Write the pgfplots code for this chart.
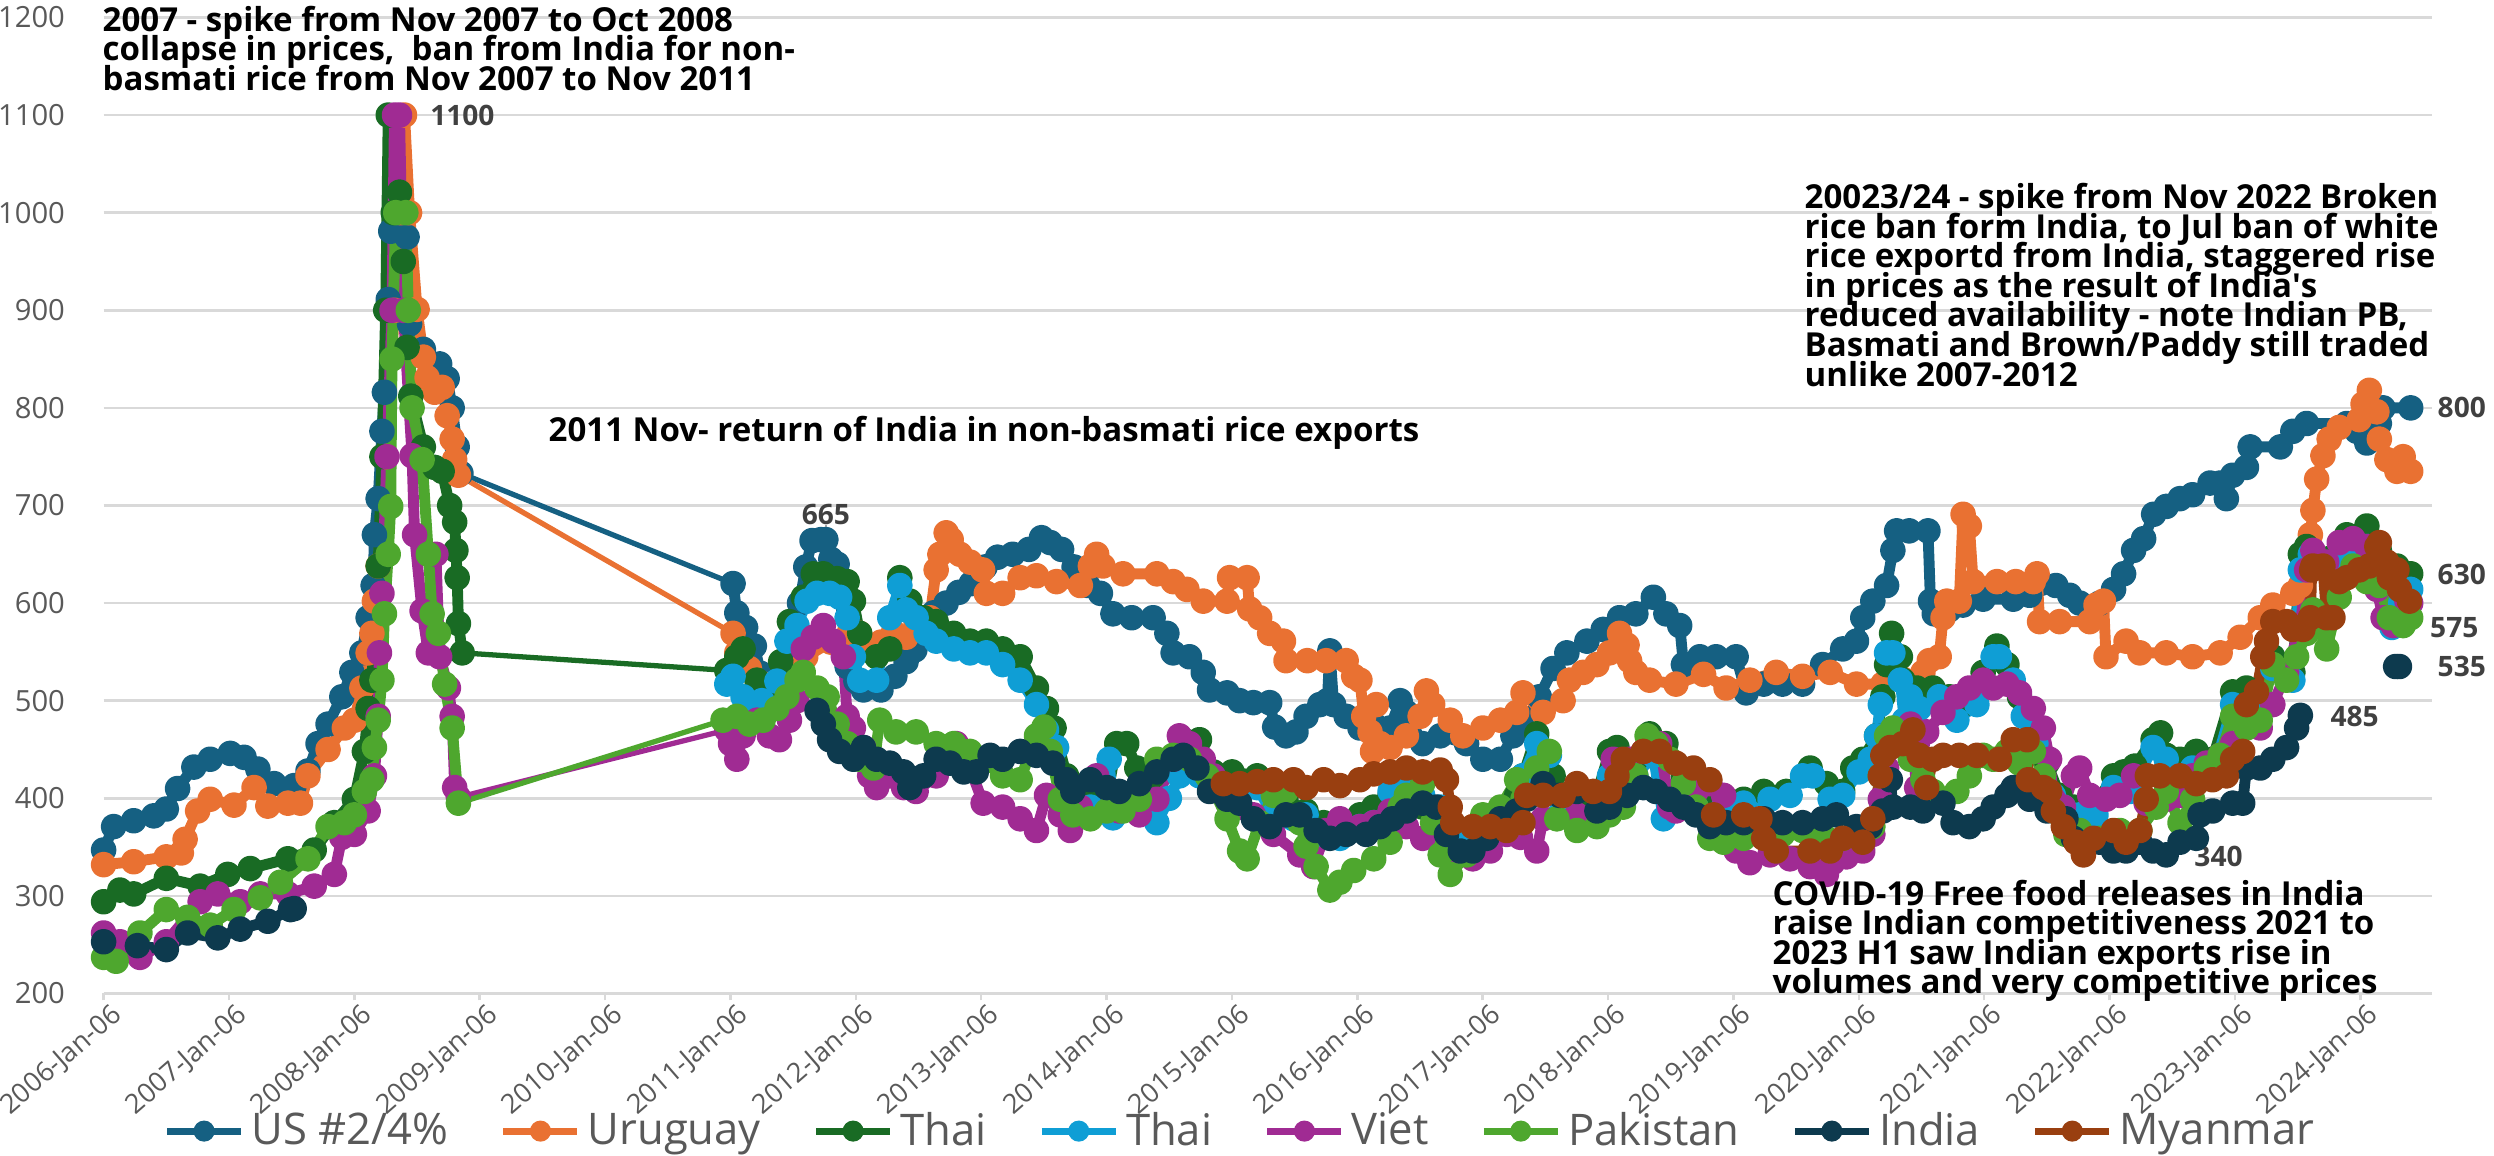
\documentclass[border=0pt]{standalone}
\usepackage{pgfplots}
\pgfplotsset{compat=1.18}
\usepackage{fontspec}
\setmainfont{Open Sans}
\definecolor{cUS}{HTML}{156082}
\definecolor{cUY}{HTML}{E97132}
\definecolor{cTH}{HTML}{196B24}
\definecolor{cTB}{HTML}{0F9ED5}
\definecolor{cVN}{HTML}{A02B93}
\definecolor{cPK}{HTML}{4EA72E}
\definecolor{cIN}{HTML}{0D3A4E}
\definecolor{cMM}{HTML}{993F10}
\definecolor{gridgray}{HTML}{D9D9D9}
\definecolor{tickgray}{HTML}{595959}
\definecolor{lblgray}{HTML}{404040}
\pgfplotsset{
  ser/.style={line width=3.1pt, mark=*, mark size=2.1pt, mark options={solid}, line join=round, forget plot},
  bridge/.style={line width=1.5pt, no marks, forget plot},
  legimg/.style={legend image code/.code={
      \draw[line width=2pt] (0cm,0cm) -- (0.74cm,0cm);
      \fill (0.37cm,0cm) circle (2.8pt);}},
}
\tikzset{lbl/.style={font=\fontsize{8}{9}\selectfont\bfseries, text=lblgray, inner sep=0pt}}
\newcommand{\annfont}{\fontsize{9.4}{8.4}\selectfont\bfseries\lineskiplimit=-\maxdimen\lineskip=0pt}
\begin{document}
\begin{tikzpicture}
\begin{axis}[
  scale only axis, width=23.284cm, height=9.76cm,
  xmin=2006, xmax=2024.57, ymin=200, ymax=1200,
  axis x line*=bottom, axis y line*=left,
  axis line style={-},
  x axis line style={draw=gridgray, line width=0.9pt},
  y axis line style={draw=none},
  ymajorgrids, grid style={draw=gridgray, line width=0.7pt},
  ytick={200,300,...,1200},
  yticklabels={200,300,400,500,600,700,800,900,1000,1100,1200},
  ytick style={draw=none},
  xtick={2006,2007,...,2024},
  xticklabels={2006-Jan-06,2007-Jan-06,2008-Jan-06,2009-Jan-06,2010-Jan-06,2011-Jan-06,2012-Jan-06,2013-Jan-06,2014-Jan-06,2015-Jan-06,2016-Jan-06,2017-Jan-06,2018-Jan-06,2019-Jan-06,2020-Jan-06,2021-Jan-06,2022-Jan-06,2023-Jan-06,2024-Jan-06},
  xtick style={draw=gridgray, line width=0.7pt},
  tick align=outside, major tick length=0.07cm,
  yticklabel style={font=\fontsize{8.3}{10}\selectfont, text=tickgray, anchor=east, inner sep=0pt, xshift=-0.31cm},
  xticklabel style={font=\fontsize{7.7}{9.5}\selectfont, text=tickgray, rotate=41, anchor=north east, inner sep=0pt, xshift=0.04cm, yshift=-0.05cm},
  clip=false,
  legend columns=8,
  legend cell align=left,
  legend style={at={(0.488,-0.141)}, anchor=center, draw=none, fill=none,
     font=\fontsize{12.4}{14.5}\selectfont, text=tickgray, inner sep=0pt,
     nodes={inner sep=0.5pt},
     /tikz/every even column/.append style={column sep=0.5cm},
     /tikz/every odd column/.append style={column sep=0.05cm}},
]
% ---------------- US #2/4%
\addplot[ser, cUS] coordinates {(2006.0,347) (2006.08,371) (2006.24,377) (2006.40,382) (2006.5,389) (2006.59,410) (2006.72,432) (2006.85,440) (2007.01,446) (2007.12,442) (2007.23,430) (2007.36,415) (2007.52,413) (2007.63,428) (2007.71,456) (2007.79,476) (2007.90,504) (2007.98,529) (2008.06,549) (2008.11,585) (2008.15,618) (2008.16,670) (2008.19,707) (2008.22,776) (2008.24,816) (2008.27,911) (2008.29,981) (2008.35,985) (2008.42,975) (2008.44,886) (2008.55,860) (2008.68,845) (2008.74,830) (2008.78,800) (2008.82,760) (2008.85,733)};
\addplot[bridge, cUS] coordinates {(2008.85,733) (2011.02,620)};
\addplot[ser, cUS] coordinates {(2011.02,620) (2011.05,590) (2011.12,575) (2011.19,556) (2011.24,528) (2011.3,522) (2011.4,525) (2011.49,530) (2011.55,600) (2011.6,637) (2011.65,664) (2011.72,665) (2011.76,665) (2011.8,645) (2011.85,640) (2011.93,535) (2012.0,520) (2012.06,511) (2012.2,511) (2012.31,525) (2012.4,540) (2012.47,552) (2012.55,575) (2012.62,590) (2012.72,600) (2012.82,611) (2012.92,620) (2013.03,637) (2013.13,647) (2013.25,650) (2013.38,655) (2013.48,667) (2013.55,662) (2013.64,655) (2013.74,637) (2013.85,618) (2013.95,610) (2014.05,589) (2014.2,585) (2014.37,585) (2014.48,569) (2014.53,549) (2014.66,545) (2014.77,529) (2014.82,511) (2014.96,508) (2015.06,500) (2015.17,498) (2015.3,498) (2015.34,473) (2015.43,464) (2015.51,468) (2015.59,484) (2015.7,496) (2015.76,500) (2015.78,551) (2015.81,496) (2015.91,484) (2016.02,472) (2016.13,476) (2016.26,472) (2016.34,500) (2016.39,488) (2016.52,456) (2016.66,464) (2016.87,456) (2017.0,440) (2017.14,440) (2017.24,464) (2017.32,472) (2017.45,504) (2017.56,533) (2017.67,549) (2017.83,561) (2017.96,573) (2018.09,585) (2018.22,589) (2018.36,606) (2018.46,589) (2018.57,577) (2018.6,537) (2018.73,545) (2018.86,545) (2019.02,545) (2019.1,508) (2019.24,517) (2019.39,517) (2019.55,517) (2019.71,537) (2019.87,553) (2019.98,561) (2020.03,585) (2020.11,602) (2020.22,618) (2020.27,654) (2020.3,674) (2020.4,674) (2020.55,674) (2020.57,602) (2020.6,589) (2020.72,593) (2020.83,598) (2020.99,604) (2021.23,604) (2021.36,608) (2021.57,618) (2021.68,608) (2021.76,600) (2021.92,600) (2022.03,614) (2022.11,630) (2022.19,654) (2022.27,666) (2022.35,691) (2022.45,699) (2022.56,707) (2022.66,711) (2022.8,723) (2022.88,723) (2022.93,707) (2022.98,731) (2023.09,739) (2023.12,760) (2023.36,760) (2023.46,776) (2023.57,784) (2023.89,784) (2023.97,776) (2024.05,764) (2024.15,784) (2024.18,800) (2024.4,800)};
% ---------------- Uruguay
\addplot[ser, cUY] coordinates {(2006.0,332) (2006.24,335) (2006.5,340) (2006.62,344) (2006.65,358) (2006.75,387) (2006.85,399) (2007.04,393) (2007.2,411) (2007.31,392) (2007.47,395) (2007.57,395) (2007.63,423) (2007.79,450) (2007.92,472) (2008.0,480) (2008.06,513) (2008.11,549) (2008.14,569) (2008.16,602) (2008.19,638) (2008.25,750) (2008.32,900) (2008.37,1000) (2008.4,1100) (2008.44,1000) (2008.5,901) (2008.55,852) (2008.58,831) (2008.64,816) (2008.7,821) (2008.74,792) (2008.78,768) (2008.8,747) (2008.83,731)};
\addplot[bridge, cUY] coordinates {(2008.83,731) (2011.02,569)};
\addplot[ser, cUY] coordinates {(2011.02,569) (2011.05,549) (2011.15,533) (2011.26,517) (2011.31,513) (2011.45,530) (2011.6,545) (2011.8,560) (2011.95,570) (2012.03,569) (2012.11,553) (2012.2,560) (2012.3,570) (2012.4,565) (2012.48,579) (2012.59,585) (2012.64,634) (2012.67,650) (2012.72,672) (2012.76,665) (2012.83,650) (2012.91,642) (2013.01,634) (2013.04,610) (2013.17,610) (2013.31,626) (2013.44,628) (2013.6,622) (2013.79,618) (2013.87,638) (2013.92,650) (2013.97,638) (2014.13,630) (2014.4,630) (2014.53,622) (2014.64,614) (2014.77,602) (2014.96,602) (2014.98,626) (2015.12,626) (2015.14,594) (2015.22,585) (2015.3,569) (2015.41,561) (2015.43,541) (2015.6,541) (2015.75,541) (2015.91,541) (2015.97,525) (2016.02,521) (2016.05,484) (2016.1,468) (2016.12,448) (2016.15,496) (2016.18,456) (2016.26,452) (2016.39,464) (2016.5,484) (2016.55,510) (2016.6,496) (2016.74,480) (2016.84,464) (2017.0,472) (2017.14,480) (2017.27,488) (2017.32,508) (2017.48,488) (2017.64,500) (2017.69,521) (2017.8,529) (2017.91,537) (2018.01,549) (2018.09,569) (2018.15,557) (2018.17,541) (2018.22,529) (2018.33,521) (2018.54,517) (2018.76,527) (2018.94,513) (2019.13,521) (2019.34,529) (2019.55,525) (2019.77,529) (2019.98,517) (2020.19,517) (2020.35,522) (2020.51,529) (2020.56,541) (2020.64,545) (2020.67,585) (2020.7,602) (2020.8,602) (2020.83,691) (2020.88,679) (2020.91,622) (2021.1,622) (2021.25,622) (2021.39,622) (2021.42,630) (2021.44,581) (2021.6,581) (2021.84,581) (2021.89,598) (2021.95,602) (2021.97,545) (2022.13,561) (2022.24,549) (2022.45,549) (2022.66,545) (2022.88,549) (2023.04,565) (2023.2,585) (2023.3,598) (2023.46,610) (2023.52,618) (2023.57,638) (2023.6,670) (2023.62,695) (2023.65,727) (2023.7,751) (2023.75,768) (2023.83,780) (2023.99,788) (2024.02,804) (2024.07,818) (2024.13,796) (2024.15,768) (2024.21,747) (2024.29,735) (2024.34,750) (2024.4,735)};
% ---------------- Thai (dark green)
\addplot[ser, cTH] coordinates {(2006.0,294) (2006.13,306) (2006.24,302) (2006.5,318) (2006.77,310) (2006.99,322) (2007.17,328) (2007.47,338) (2007.68,347) (2007.84,375) (2008.0,399) (2008.08,448) (2008.11,492) (2008.14,521) (2008.19,638) (2008.22,750) (2008.25,900) (2008.27,1100) (2008.31,1000) (2008.36,1021) (2008.39,950) (2008.42,862) (2008.45,812) (2008.55,760) (2008.64,739) (2008.7,735) (2008.76,700) (2008.8,683) (2008.81,654) (2008.82,626) (2008.83,579) (2008.86,549)};
\addplot[bridge, cTH] coordinates {(2008.86,549) (2010.97,531)};
\addplot[ser, cTH] coordinates {(2010.97,531) (2011.05,545) (2011.1,553) (2011.21,521) (2011.31,504) (2011.4,540) (2011.47,581) (2011.58,606) (2011.66,630) (2011.74,630) (2011.85,625) (2011.93,622) (2011.98,602) (2012.03,569) (2012.165,545) (2012.27,553) (2012.35,626) (2012.43,602) (2012.54,585) (2012.64,581) (2012.78,569) (2012.91,561) (2013.04,561) (2013.17,553) (2013.31,545) (2013.44,513) (2013.52,492) (2013.58,472) (2013.68,423) (2013.73,407) (2013.87,399) (2014.0,399) (2014.08,456) (2014.16,456) (2014.24,431) (2014.37,423) (2014.53,440) (2014.61,460) (2014.74,460) (2014.85,427) (2015.0,427) (2015.2,423) (2015.33,415) (2015.43,399) (2015.59,387) (2015.73,375) (2015.86,375) (2016.02,383) (2016.13,391) (2016.26,403) (2016.4,399) (2016.52,391) (2016.66,379) (2016.82,363) (2016.92,359) (2017.06,367) (2017.19,383) (2017.27,403) (2017.32,423) (2017.43,466) (2017.56,423) (2017.64,391) (2017.75,383) (2017.88,391) (2018.01,448) (2018.07,452) (2018.22,440) (2018.33,466) (2018.46,456) (2018.6,423) (2018.76,403) (2018.92,399) (2019.08,399) (2019.24,407) (2019.42,407) (2019.61,431) (2019.74,415) (2019.87,407) (2019.95,431) (2020.03,440) (2020.14,464) (2020.19,504) (2020.22,537) (2020.26,569) (2020.33,545) (2020.35,521) (2020.46,513) (2020.59,513) (2020.72,504) (2020.83,496) (2020.99,529) (2021.1,556) (2021.18,537) (2021.28,504) (2021.39,472) (2021.5,436) (2021.6,403) (2021.71,391) (2021.87,391) (2022.03,423) (2022.11,427) (2022.2,433) (2022.345,460) (2022.405,467) (2022.45,444) (2022.56,440) (2022.69,448) (2022.82,440) (2022.98,509) (2023.09,513) (2023.2,496) (2023.3,545) (2023.46,529) (2023.52,650) (2023.57,658) (2023.76,646) (2023.89,670) (2024.05,679) (2024.15,654) (2024.29,638) (2024.4,630)};
% ---------------- Thai (light blue)
\addplot[ser, cTB] coordinates {(2010.97,517) (2011.02,525) (2011.1,504) (2011.15,488) (2011.25,500) (2011.37,520) (2011.45,561) (2011.53,577) (2011.61,602) (2011.69,610) (2011.79,610) (2011.87,606) (2011.93,585) (2011.98,545) (2012.03,521) (2012.165,521) (2012.27,585) (2012.35,618) (2012.4,593) (2012.48,585) (2012.56,569) (2012.64,561) (2012.78,553) (2012.91,549) (2013.04,549) (2013.17,537) (2013.31,521) (2013.44,496) (2013.52,470) (2013.6,452) (2013.68,403) (2013.87,391) (2014.02,440) (2014.05,380) (2014.15,390) (2014.26,399) (2014.4,375) (2014.5,400) (2014.58,423) (2014.74,423) (2014.96,411) (2015.2,411) (2015.33,383) (2015.49,379) (2015.59,383) (2015.73,363) (2015.86,359) (2016.02,371) (2016.13,375) (2016.26,407) (2016.36,419) (2016.52,403) (2016.66,391) (2016.79,359) (2016.92,351) (2017.06,355) (2017.19,375) (2017.32,423) (2017.43,456) (2017.53,444) (2017.61,383) (2017.8,375) (2018.01,423) (2018.22,423) (2018.36,444) (2018.44,379) (2018.54,391) (2018.7,391) (2018.92,391) (2019.08,395) (2019.29,399) (2019.45,403) (2019.55,423) (2019.63,423) (2019.77,399) (2019.87,403) (2020.0,427) (2020.09,440) (2020.14,464) (2020.17,496) (2020.22,549) (2020.27,549) (2020.33,521) (2020.36,480) (2020.41,504) (2020.48,492) (2020.64,504) (2020.78,480) (2020.94,496) (2021.07,545) (2021.12,545) (2021.23,521) (2021.31,484) (2021.41,456) (2021.55,403) (2021.63,391) (2021.76,383) (2021.89,383) (2022.03,411) (2022.16,407) (2022.345,452) (2022.45,440) (2022.66,431) (2022.82,423) (2022.98,496) (2023.14,492) (2023.3,533) (2023.46,521) (2023.52,634) (2023.6,650) (2023.78,638) (2023.89,650) (2024.05,658) (2024.15,634) (2024.25,575) (2024.32,600) (2024.4,614)};
% ---------------- Viet
\addplot[ser, cVN] coordinates {(2006.0,262) (2006.13,253) (2006.29,237) (2006.5,253) (2006.77,294) (2006.91,302) (2007.09,294) (2007.25,302) (2007.47,302) (2007.68,310) (2007.84,322) (2007.9,360) (2008.0,363) (2008.11,387) (2008.16,423) (2008.19,484) (2008.2,549) (2008.22,610) (2008.26,750) (2008.3,900) (2008.32,1100) (2008.36,1100) (2008.39,900) (2008.46,751) (2008.48,670) (2008.54,592) (2008.59,549) (2008.65,650) (2008.68,545) (2008.75,513) (2008.78,484) (2008.8,411) (2008.83,401)};
\addplot[bridge, cVN] coordinates {(2008.83,401) (2010.97,470)};
\addplot[ser, cVN] coordinates {(2010.97,470) (2011.0,456) (2011.05,440) (2011.1,464) (2011.21,480) (2011.31,464) (2011.39,460) (2011.47,480) (2011.53,500) (2011.58,553) (2011.66,565) (2011.74,577) (2011.82,561) (2011.9,545) (2011.93,484) (2011.98,472) (2012.06,452) (2012.11,423) (2012.165,411) (2012.27,423) (2012.38,411) (2012.48,407) (2012.64,423) (2012.8,456) (2012.91,431) (2013.015,395) (2013.17,391) (2013.31,379) (2013.44,367) (2013.52,403) (2013.63,383) (2013.71,367) (2013.79,391) (2013.92,423) (2014.05,403) (2014.1,387) (2014.26,383) (2014.4,399) (2014.53,440) (2014.58,464) (2014.66,456) (2014.77,440) (2014.85,423) (2015.06,391) (2015.17,383) (2015.33,363) (2015.54,342) (2015.65,330) (2015.75,367) (2015.86,379) (2016.02,371) (2016.13,375) (2016.26,387) (2016.39,371) (2016.52,359) (2016.74,342) (2016.92,338) (2017.06,346) (2017.19,363) (2017.3,360) (2017.43,346) (2017.48,379) (2017.75,383) (2018.01,399) (2018.04,440) (2018.17,440) (2018.28,448) (2018.41,456) (2018.49,391) (2018.54,387) (2018.7,407) (2018.81,415) (2018.92,403) (2019.02,346) (2019.13,334) (2019.29,342) (2019.45,338) (2019.61,330) (2019.74,322) (2019.79,334) (2019.9,340) (2020.03,346) (2020.11,363) (2020.17,399) (2020.22,431) (2020.27,464) (2020.41,476) (2020.46,411) (2020.54,468) (2020.67,488) (2020.78,504) (2020.88,513) (2020.99,521) (2021.07,513) (2021.18,517) (2021.28,508) (2021.39,492) (2021.47,472) (2021.52,440) (2021.55,399) (2021.63,391) (2021.71,423) (2021.76,431) (2021.84,403) (2021.97,399) (2022.08,403) (2022.19,423) (2022.29,395) (2022.45,399) (2022.56,403) (2022.66,423) (2022.77,436) (2022.88,444) (2022.98,456) (2023.09,476) (2023.2,472) (2023.3,496) (2023.41,529) (2023.52,577) (2023.57,634) (2023.62,654) (2023.73,642) (2023.83,662) (2023.94,666) (2024.05,658) (2024.13,614) (2024.18,585) (2024.26,577) (2024.37,602) (2024.4,600)};
% ---------------- Pakistan
\addplot[ser, cPK] coordinates {(2006.0,237) (2006.1,233) (2006.29,262) (2006.5,286) (2006.67,278) (2006.85,270) (2007.04,286) (2007.25,298) (2007.41,314) (2007.63,338) (2007.79,371) (2007.92,375) (2008.0,383) (2008.08,407) (2008.14,419) (2008.16,452) (2008.19,480) (2008.22,521) (2008.24,589) (2008.27,650) (2008.29,699) (2008.3,850) (2008.33,1000) (2008.41,1000) (2008.43,900) (2008.46,800) (2008.54,747) (2008.59,650) (2008.62,589) (2008.67,569) (2008.72,517) (2008.78,472) (2008.83,395)};
\addplot[bridge, cPK] coordinates {(2008.83,395) (2010.94,480)};
\addplot[ser, cPK] coordinates {(2010.94,480) (2011.05,484) (2011.15,476) (2011.26,480) (2011.37,492) (2011.45,504) (2011.53,521) (2011.58,529) (2011.69,513) (2011.77,504) (2011.85,476) (2011.93,456) (2012.03,440) (2012.14,431) (2012.19,480) (2012.32,468) (2012.48,468) (2012.64,456) (2012.78,456) (2012.91,448) (2012.99,440) (2013.17,423) (2013.31,419) (2013.44,464) (2013.5,473) (2013.55,448) (2013.63,399) (2013.73,383) (2013.87,379) (2014.0,387) (2014.13,387) (2014.26,399) (2014.4,440) (2014.53,444) (2014.66,440) (2014.8,423) (2014.96,379) (2015.06,346) (2015.12,338) (2015.22,375) (2015.33,403) (2015.43,407) (2015.54,375) (2015.59,351) (2015.67,330) (2015.78,306) (2015.86,314) (2015.97,326) (2016.13,338) (2016.26,355) (2016.34,391) (2016.39,403) (2016.52,415) (2016.6,375) (2016.66,342) (2016.74,322) (2016.87,342) (2017.0,383) (2017.14,391) (2017.27,419) (2017.32,399) (2017.43,431) (2017.53,448) (2017.59,379) (2017.75,367) (2017.91,371) (2018.01,383) (2018.12,391) (2018.22,423) (2018.31,464) (2018.38,456) (2018.49,440) (2018.6,415) (2018.7,391) (2018.81,359) (2018.92,355) (2019.08,359) (2019.24,363) (2019.39,363) (2019.55,367) (2019.71,363) (2019.87,359) (2020.01,363) (2020.11,371) (2020.17,423) (2020.22,464) (2020.27,472) (2020.33,464) (2020.41,440) (2020.51,419) (2020.59,407) (2020.67,399) (2020.78,407) (2020.88,423) (2020.99,444) (2021.07,440) (2021.18,448) (2021.28,436) (2021.39,448) (2021.47,423) (2021.55,387) (2021.65,363) (2021.76,367) (2021.92,359) (2022.08,367) (2022.24,367) (2022.37,391) (2022.45,407) (2022.56,375) (2022.66,399) (2022.77,431) (2022.88,444) (2022.98,484) (2023.09,472) (2023.2,480) (2023.3,537) (2023.41,521) (2023.49,545) (2023.57,569) (2023.62,593) (2023.73,553) (2023.83,606) (2023.94,638) (2024.05,622) (2024.15,618) (2024.23,585) (2024.34,577) (2024.4,585)};
% ---------------- India
\addplot[ser, cIN, unbounded coords=jump] coordinates {(2006.0,253) (2006.27,249) (2006.5,245) (2006.67,262) (2006.91,257) (2007.09,266) (2007.31,274) (2007.49,286) (2007.52,287) (2009.5,nan) (2011.69,490) (2011.74,476) (2011.79,460) (2011.87,448) (2011.98,440) (2012.06,452) (2012.165,440) (2012.27,436) (2012.38,427) (2012.43,411) (2012.54,423) (2012.64,440) (2012.75,436) (2012.86,427) (2012.96,427) (2013.07,444) (2013.17,440) (2013.31,448) (2013.44,444) (2013.57,436) (2013.68,419) (2013.73,407) (2013.87,419) (2014.0,411) (2014.1,407) (2014.26,415) (2014.4,427) (2014.53,440) (2014.61,444) (2014.72,431) (2014.82,407) (2014.96,399) (2015.06,395) (2015.17,379) (2015.3,371) (2015.43,383) (2015.54,383) (2015.67,367) (2015.78,359) (2015.91,363) (2016.07,363) (2016.18,371) (2016.28,379) (2016.39,387) (2016.52,395) (2016.63,391) (2016.71,363) (2016.82,346) (2016.92,346) (2017.03,359) (2017.14,379) (2017.27,387) (2017.35,399) (2017.48,415) (2017.61,403) (2017.75,407) (2017.91,387) (2018.01,391) (2018.15,403) (2018.28,411) (2018.38,407) (2018.49,399) (2018.6,391) (2018.7,383) (2018.81,371) (2018.94,375) (2019.08,375) (2019.24,379) (2019.39,375) (2019.55,375) (2019.71,379) (2019.82,383) (2019.98,371) (2020.09,371) (2020.19,387) (2020.25,419) (2020.27,391) (2020.41,391) (2020.51,387) (2020.67,395) (2020.75,375) (2020.88,371) (2020.99,379) (2021.07,391) (2021.18,403) (2021.23,411) (2021.36,399) (2021.5,387) (2021.65,379) (2021.71,359) (2021.81,351) (2021.92,355) (2022.03,346) (2022.13,346) (2022.24,355) (2022.345,346) (2022.45,342) (2022.56,355) (2022.69,359) (2022.72,383) (2022.82,387) (2022.98,395) (2023.06,395) (2023.09,431) (2023.2,431) (2023.3,440) (2023.41,452) (2023.49,472) (2023.52,485) (2023.9,nan) (2024.28,535) (2024.31,535)};
% ---------------- Myanmar
\addplot[ser, cMM] coordinates {(2014.93,415) (2015.06,415) (2015.2,417) (2015.33,419) (2015.49,419) (2015.59,411) (2015.73,419) (2015.86,413) (2016.02,419) (2016.13,425) (2016.26,427) (2016.39,431) (2016.52,427) (2016.66,429) (2016.71,419) (2016.74,391) (2016.76,375) (2016.92,371) (2017.06,371) (2017.19,367) (2017.32,375) (2017.35,403) (2017.48,403) (2017.64,403) (2017.75,415) (2017.88,407) (2018.01,407) (2018.07,423) (2018.12,440) (2018.28,448) (2018.41,448) (2018.54,436) (2018.68,431) (2018.81,419) (2018.84,383) (2019.08,383) (2019.21,379) (2019.24,359) (2019.34,346) (2019.61,346) (2019.77,346) (2019.87,359) (2020.03,355) (2020.11,379) (2020.17,423) (2020.19,444) (2020.25,452) (2020.35,456) (2020.43,470) (2020.48,444) (2020.54,411) (2020.59,440) (2020.67,444) (2020.8,444) (2020.94,444) (2021.12,440) (2021.23,460) (2021.34,460) (2021.35,419) (2021.47,411) (2021.52,407) (2021.55,387) (2021.63,371) (2021.73,355) (2021.79,342) (2021.87,359) (2022.03,367) (2022.13,355) (2022.24,367) (2022.29,399) (2022.3,423) (2022.4,423) (2022.56,423) (2022.69,415) (2022.82,419) (2022.93,423) (2022.98,440) (2023.06,448) (2023.09,496) (2023.17,509) (2023.22,545) (2023.25,561) (2023.3,581) (2023.41,581) (2023.46,573) (2023.54,573) (2023.6,585) (2023.61,634) (2023.62,638) (2023.7,638) (2023.73,585) (2023.78,585) (2023.83,622) (2023.89,626) (2023.99,634) (2024.07,638) (2024.13,658) (2024.15,662) (2024.21,642) (2024.23,626) (2024.29,634) (2024.31,614) (2024.39,602)};
% ---------------- legend
\addlegendimage{cUS, legimg}\addlegendentry{US \#2/4\%}
\addlegendimage{cUY, legimg}\addlegendentry{Uruguay}
\addlegendimage{cTH, legimg}\addlegendentry{Thai}
\addlegendimage{cTB, legimg}\addlegendentry{Thai}
\addlegendimage{cVN, legimg}\addlegendentry{Viet}
\addlegendimage{cPK, legimg}\addlegendentry{Pakistan}
\addlegendimage{cIN, legimg}\addlegendentry{India}
\addlegendimage{cMM, legimg}\addlegendentry{Myanmar}
% ---------------- data labels
\node[lbl, anchor=west] at (axis cs:2008.60,1100) {1100};
\draw[gray!70, line width=0.5pt] (axis cs:2011.76,668) -- (axis cs:2011.76,680);
\node[lbl, anchor=center] at (axis cs:2011.76,691) {665};
\node[lbl, anchor=west] at (axis cs:2024.61,800) {800};
\node[lbl, anchor=west] at (axis cs:2024.61,629) {630};
\node[lbl, anchor=west] at (axis cs:2024.55,575) {575};
\node[lbl, anchor=west] at (axis cs:2024.61,535) {535};
\node[lbl, anchor=west] at (axis cs:2023.755,484) {485};
\node[lbl, anchor=west] at (axis cs:2022.67,340) {340};
\end{axis}
% ---------------- annotations
\node[anchor=west, inner sep=0pt, align=left, font=\annfont] at (-0.016cm,9.45cm) {2007 - spike from Nov 2007 to Oct 2008\\collapse in prices,~ ban from India for non-\\basmati rice from Nov 2007 to Nov 2011};
\node[anchor=west, inner sep=0pt, font=\annfont] at (4.444cm,5.605cm) {2011 Nov- return of India in non-basmati rice exports};
\node[anchor=west, inner sep=0pt, align=left, font=\annfont] at (17.004cm,7.085cm) {20023/24 - spike from Nov 2022 Broken\\rice ban form India, to Jul ban of white\\rice exportd from India, staggered rise\\in prices as the result of India\textquotesingle s\\reduced availability - note Indian PB,\\Basmati and Brown/Paddy still traded\\unlike 2007-2012};
\node[anchor=west, inner sep=0pt, align=left, font=\annfont] at (16.684cm,0.525cm) {COVID-19 Free food releases in India\\raise Indian competitiveness 2021 to\\2023 H1 saw Indian exports rise in\\volumes and very competitive prices};
\pgfresetboundingbox
\path (-1.036cm,-1.625cm) rectangle (23.904cm,9.935cm);
\end{tikzpicture}
\end{document}
